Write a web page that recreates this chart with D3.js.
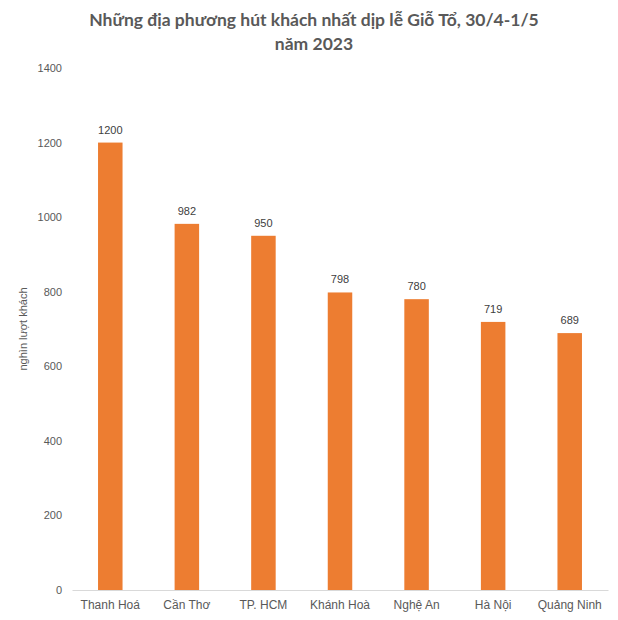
<!DOCTYPE html>
<html><head><meta charset="utf-8">
<script src="https://cdn.jsdelivr.net/npm/d3@7"></script>
<style>body{margin:0;background:#fff} text{font-family:"Liberation Sans", Arial, sans-serif}</style>
</head><body>
<script>
const categories = ["Thanh Hoá","Cần Thơ","TP. HCM","Khánh Hoà","Nghệ An","Hà Nội","Quảng Ninh"];
const values = [1200, 982, 950, 798, 780, 719, 689];
const yTicks = [0,200,400,600,800,1000,1200,1400];
const titleLines = ["Những địa phương hút khách nhất dịp lễ Giỗ Tổ, 30/4-1/5","năm 2023"];
const yTitle = "nghìn lượt khách";

const W=618,H=620;
const AF="'Liberation Sans', Arial, sans-serif";
const svg=d3.select("body").append("svg").attr("width",W).attr("height",H);
svg.append("rect").attr("width",W).attr("height",H).attr("fill","#fff");
const x=d3.scaleBand().domain(categories).range([72,608]).paddingInner(0.68).paddingOuter(0.34);
const y=d3.scaleLinear().domain([0,1400]).range([590,68]);

svg.selectAll("text.title").data(titleLines).join("text").attr("class","title")
 .attr("x",314).attr("y",(d,i)=>26+i*24).attr("text-anchor","middle")
 .style("font-family","Lato, 'Open Sans', sans-serif").attr("font-weight","bold").attr("font-size",17.5)
 .attr("fill","#595959").text(d=>d);

const ya=svg.append("g").attr("transform","translate(66,0)")
 .call(d3.axisLeft(y).tickValues(yTicks).tickFormat(d3.format("d")).tickSize(0).tickPadding(0));
ya.select(".domain").remove();
ya.selectAll("text").style("font-family",AF).attr("font-size",11).attr("fill","#595959").attr("dx",-4);

const xa=svg.append("g").attr("transform","translate(0,590)")
 .call(d3.axisBottom(x).tickSize(0).tickPadding(10));
xa.select(".domain").attr("stroke","#d9d9d9");
xa.selectAll("text").style("font-family",AF).attr("font-size",12).attr("fill","#595959");

svg.append("text").attr("transform","translate(27,329) rotate(-90)").attr("text-anchor","middle")
 .style("font-family",AF).attr("font-size",11).attr("fill","#595959").text(yTitle);

const data=categories.map((c,i)=>({c,v:values[i]}));
svg.selectAll("rect.bar").data(data).join("rect").attr("class","bar")
 .attr("x",d=>x(d.c)).attr("width",x.bandwidth()).attr("y",d=>y(d.v)).attr("height",d=>y(0)-y(d.v)).attr("fill","#ED7D31");
svg.selectAll("text.lbl").data(data).join("text").attr("class","lbl")
 .attr("x",d=>x(d.c)+x.bandwidth()/2).attr("y",d=>y(d.v)-9).attr("text-anchor","middle")
 .style("font-family",AF).attr("font-size",11).attr("fill","#404040").text(d=>d.v);
</script>
</body></html>
